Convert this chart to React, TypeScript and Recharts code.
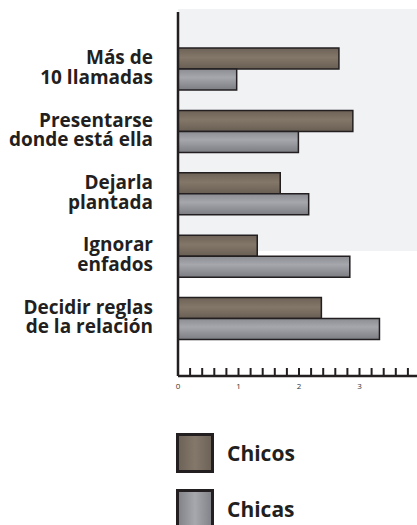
import { BarChart, Bar, XAxis, YAxis, Legend } from 'recharts'

const labelTop = ['Más de', 'Presentarse', 'Dejarla', 'Ignorar', 'Decidir reglas']
const labelBottom = ['10 llamadas', 'donde está ella', 'plantada', 'enfados', 'de la relación']
const chicos = [2.66, 2.89, 1.69, 1.31, 2.37]
const chicas = [0.97, 1.99, 2.16, 2.84, 3.33]
const xTicks = [0, 0.2, 0.4, 0.6, 0.8, 1, 1.2, 1.4, 1.6, 1.8, 2, 2.2, 2.4, 2.6, 2.8, 3, 3.2, 3.4, 3.6, 3.8, 4]

const data = labelTop.map((top, i) => ({
  name: top + '|' + labelBottom[i],
  chicos: chicos[i],
  chicas: chicas[i]
}))

const font = '"Open Sans", sans-serif'

function CategoryTick({ x, y, payload }: any) {
  const [a, b] = String(payload.value).split('|')
  return (
    <text x={x - 17} y={y} textAnchor="end" fontFamily={font} fontWeight={700} fontSize={19} fill="#231f20">
      <tspan x={x - 17} dy={-5}>{a}</tspan>
      <tspan x={x - 17} dy={19.5}>{b}</tspan>
    </text>
  )
}

function ValueTick({ x, y, payload }: any) {
  const v = payload.value
  const whole = Math.abs(v - Math.round(v)) < 0.001
  return (
    <g>
      {v !== 0 && <line x1={x} x2={x} y1={y - 8} y2={y} stroke="#231f20" strokeWidth={2} />}
      {whole && (
        <text x={x} y={y + 13} textAnchor="middle" fontFamily={font} fontSize={8} fill="#333">
          {Math.round(v)}
        </text>
      )}
    </g>
  )
}

function Swatch({ id }: { id: string }) {
  return (
    <svg width={38} height={40} style={{ display: 'block' }}>
      <defs>
        {id === 'chicos' ? (
          <linearGradient id="lg-chicos" x1="0" y1="0" x2="1" y2="0">
            <stop offset="0" stopColor="#6c6156" />
            <stop offset="0.5" stopColor="#84786b" />
            <stop offset="1" stopColor="#6c6156" />
          </linearGradient>
        ) : (
          <linearGradient id="lg-chicas" x1="0" y1="0" x2="1" y2="0">
            <stop offset="0" stopColor="#7f8186" />
            <stop offset="0.5" stopColor="#a6a8ad" />
            <stop offset="1" stopColor="#7f8186" />
          </linearGradient>
        )}
      </defs>
      <rect x={1.5} y={1.5} width={35} height={37} fill={`url(#lg-${id})`} stroke="#231f20" strokeWidth={3} />
    </svg>
  )
}

function LegendBox() {
  const items = [
    { id: 'chicos', label: 'Chicos' },
    { id: 'chicas', label: 'Chicas' }
  ]
  return (
    <div>
      {items.map((it) => (
        <div key={it.id} style={{ display: 'flex', alignItems: 'center', height: 56 }}>
          <Swatch id={it.id} />
          <span style={{ marginLeft: 13, fontFamily: font, fontWeight: 700, fontSize: 21, color: '#231f20' }}>
            {it.label}
          </span>
        </div>
      ))}
    </div>
  )
}

export default function App() {
  return (
    <div style={{ position: 'absolute', left: 0, top: 0, width: 417, height: 525, overflow: 'hidden', background: '#fff' }}>
      <div style={{ position: 'absolute', left: 178, top: 9, width: 239, height: 242, background: '#f1f2f4' }} />
      <div style={{ position: 'absolute', left: 0, top: 0 }}>
        <BarChart
          width={440}
          height={525}
          data={data}
          layout="vertical"
          margin={{ top: 12, right: 20, bottom: 119, left: 0 }}
          barSize={21}
          barGap={0}
        >
          <defs>
            <linearGradient id="bar-chicos" x1="0" y1="0" x2="0" y2="1">
              <stop offset="0" stopColor="#6d6256" />
              <stop offset="0.45" stopColor="#837769" />
              <stop offset="1" stopColor="#695e53" />
            </linearGradient>
            <linearGradient id="bar-chicas" x1="0" y1="0" x2="0" y2="1">
              <stop offset="0" stopColor="#8b8d92" />
              <stop offset="0.4" stopColor="#a5a7ac" />
              <stop offset="1" stopColor="#7b7d82" />
            </linearGradient>
          </defs>
          <XAxis
            type="number"
            domain={[0, 4]}
            ticks={xTicks}
            interval={0}
            height={30}
            tickLine={false}
            tickSize={0}
            tickMargin={0}
            tick={<ValueTick />}
            axisLine={{ stroke: '#231f20', strokeWidth: 2.5 }}
          />
          <YAxis
            type="category"
            dataKey="name"
            width={178}
            padding={{ top: 26, bottom: 26 }}
            tickLine={false}
            tick={<CategoryTick />}
            axisLine={{ stroke: '#231f20', strokeWidth: 2.5 }}
          />
          <Legend
            layout="vertical"
            verticalAlign="middle"
            align="center"
            wrapperStyle={{ left: 176, top: 425, width: 200 }}
            content={<LegendBox />}
          />
          <Bar dataKey="chicos" name="Chicos" fill="url(#bar-chicos)" stroke="#231f20" strokeWidth={1.5} isAnimationActive={false} />
          <Bar dataKey="chicas" name="Chicas" fill="url(#bar-chicas)" stroke="#231f20" strokeWidth={1.5} isAnimationActive={false} />
        </BarChart>
      </div>
    </div>
  )
}
